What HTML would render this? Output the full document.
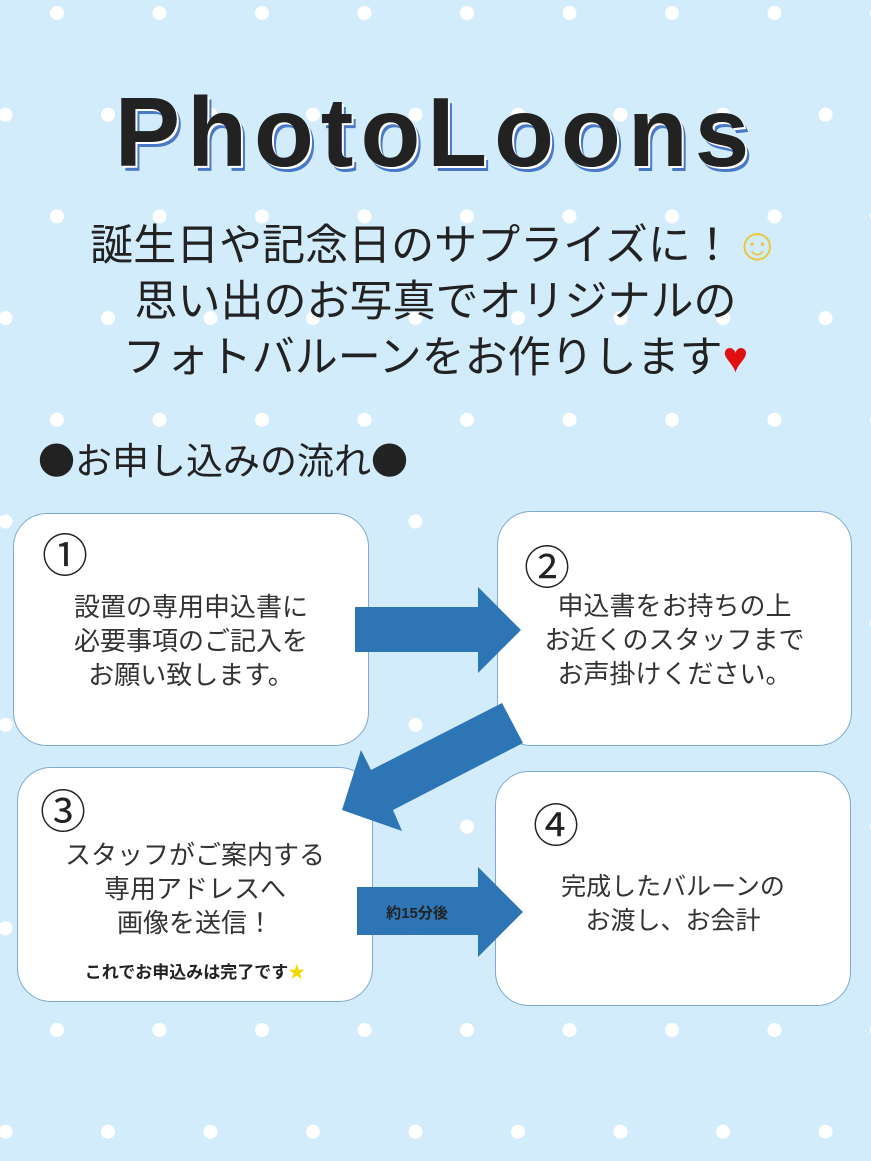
<!DOCTYPE html>
<html><head><meta charset="utf-8"><style>
html,body{margin:0;padding:0}
body{width:871px;height:1161px;position:relative;overflow:hidden;background:#d3ecfb;font-family:"Liberation Sans","Noto Sans CJK JP",sans-serif;color:#222}
svg.bg{position:absolute;left:0;top:0}
.t{position:absolute;white-space:nowrap}
.title{left:0;width:871px;top:76px;text-align:center;font-size:98px;font-weight:bold;letter-spacing:7px;color:#222;text-shadow:2px 2px 0 #fff,4px 5px 0 #4a78c8;font-family:"Liberation Sans",sans-serif}
.sub{left:0;width:871px;text-align:center;font-size:43px;line-height:56px;top:216px;color:#222}
.box{position:absolute;background:#fff;border:1.5px solid #7fa9d3;border-radius:34px;box-sizing:border-box}
.num{position:absolute;font-size:46px;color:#222;font-family:"Noto Sans CJK JP",sans-serif;line-height:1}
.bt{position:absolute;text-align:center;font-size:26px;line-height:34px;color:#333}
</style></head><body>
<svg class="bg" width="871" height="1161">
<defs><pattern id="p" patternUnits="userSpaceOnUse" width="102.5" height="203.4">
<circle cx="57" cy="13" r="7" fill="#fff"/><circle cx="5.5" cy="114.7" r="7" fill="#fff"/><circle cx="108" cy="114.7" r="7" fill="#fff"/>
</pattern></defs>
<rect width="871" height="1161" fill="url(#p)"/>
</svg>
<div class="t title">PhotoLoons</div>
<div class="t sub">誕生日や記念日のサプライズに！<span style="color:#e8c840;font-size:46px">☺</span><br>思い出のお写真でオリジナルの<br>フォトバルーンをお作りします<span style="color:#e01010">♥</span></div>
<div class="t" style="left:38px;top:434px;font-size:37px;color:#222;font-family:'Noto Sans CJK JP',sans-serif;line-height:1.3">●お申し込みの流れ●</div>

<div class="box" style="left:13px;top:513px;width:356px;height:233px"></div>
<div class="box" style="left:497px;top:511px;width:355px;height:235px"></div>
<div class="box" style="left:17px;top:767px;width:356px;height:235px"></div>
<div class="box" style="left:495px;top:771px;width:356px;height:235px"></div>

<svg class="bg" width="871" height="1161">
<polygon fill="#2e75b6" points="355,607 478,607 478,587 521,630 478,673 478,652 355,652"/>
<polygon fill="#2e75b6" points="357,887 478,887 478,867 523,912 478,957 478,935 357,935"/>
<polygon fill="#2e75b6" points="502,703 523,743 393,810 402,831 342,810 361,750 371,770"/>
<text x="417" y="918" font-size="15" font-weight="bold" fill="#222" text-anchor="middle" font-family="Liberation Sans,Noto Sans CJK JP,sans-serif">約15分後</text>
</svg>

<div class="num" style="left:42px;top:530px">①</div>
<div class="bt" style="left:13px;width:356px;top:590px">設置の専用申込書に<br>必要事項のご記入を<br>お願い致します。</div>
<div class="num" style="left:524px;top:542px">②</div>
<div class="bt" style="left:497px;width:355px;top:589px">申込書をお持ちの上<br>お近くのスタッフまで<br>お声掛けください。</div>
<div class="num" style="left:40px;top:786px">③</div>
<div class="bt" style="left:17px;width:356px;top:838px">スタッフがご案内する<br>専用アドレスへ<br>画像を送信！</div>
<div class="t" style="left:17px;width:356px;text-align:center;top:958px;font-size:17px;font-weight:bold;color:#222">これでお申込みは完了です<span style="color:#f5d800">★</span></div>
<div class="num" style="left:533px;top:800px">④</div>
<div class="bt" style="left:495px;width:356px;top:870px;font-size:25px">完成したバルーンの<br>お渡し、お会計</div>
</body></html>
